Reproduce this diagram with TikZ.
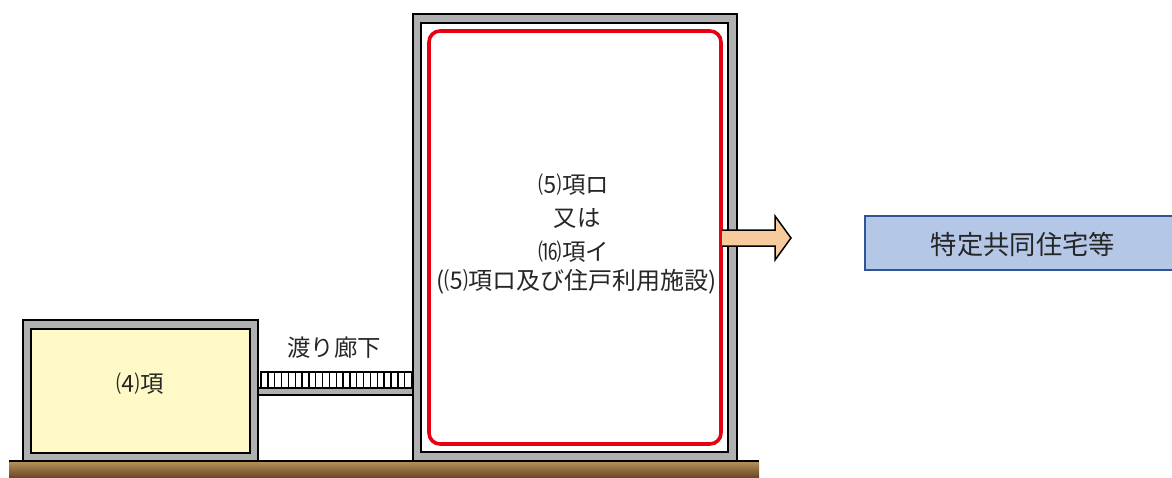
\documentclass[tikz,border=0pt]{standalone}
\usepackage{fontspec}
\setmainfont{Noto Sans CJK JP}
\tikzset{
 wall/.style={draw=black,line width=2pt,fill=wallgray},
 room/.style={draw=black,line width=2pt},
 lbl/.style={text=black!85,inner sep=0pt,align=center},
 lblm/.style={lbl,font=\fontsize{24}{26}\selectfont},
 lblb/.style={lbl,font=\fontsize{26.3}{28}\selectfont},
 lbls/.style={lbl,font=\fontsize{23.4}{26}\selectfont},
}
\definecolor{wallgray}{HTML}{B0B0B0}
\definecolor{roomyellow}{HTML}{FFF9C8}
\definecolor{redline}{HTML}{E60012}
\definecolor{arrowfill}{HTML}{F8CB9C}
\definecolor{boxfill}{HTML}{B4C7E7}
\definecolor{boxline}{HTML}{2F5597}
\definecolor{groundtop}{HTML}{B8935A}
\definecolor{groundbot}{HTML}{6A4A28}
\begin{document}
\begin{tikzpicture}[x=1pt,y=-1pt]
\useasboundingbox (0,0) rectangle (1172,477);
\fill[white] (0,0) rectangle (1172,477);
% ground
\shade[top color=groundtop,bottom color=groundbot] (9,461) rectangle (759,477);
\draw[black,line width=1.2pt] (9,461) -- (759,461);
% left building
\draw[wall] (23,320) rectangle (258,461);
\draw[room,fill=roomyellow] (31,329) rectangle (250,453);
% bridge
\draw[wall] (258,388) rectangle (413,395);
\draw[black,line width=1.4pt] (261,388) -- (261,372) -- (411.5,372) -- (411.5,388);
\foreach \i in {1,...,21} \draw[black,line width=1.4pt] ({261+\i*6.84},372) -- ({261+\i*6.84},388);
% main building
\draw[wall] (413,14) rectangle (737,461);
\draw[room,fill=white] (421,23) rectangle (728,452);
\draw[redline,line width=3.6pt,rounded corners=11pt] (429,31) rectangle (721,444);
% arrow
\draw[black,line width=1.5pt,fill=arrowfill] (722,230) -- (775,230) -- (775,216) -- (791,238) -- (775,260) -- (775,246) -- (722,246);
% box
\fill[boxfill] (865,216) rectangle (1174,270);
\draw[boxline,line width=2pt] (1174,216) -- (865,216) -- (865,270) -- (1174,270);
% labels
\node[lbls] (n4) at (140,384) {⑷項};
\node[lbls] (nb) at (334,348) {渡り廊下};
\node[lbls] (m1) at (574,185) {⑸項ロ};
\node[lbls] (m2) at (577,218) {又は};
\node[lbls] (m3) at (574,252) {⒃項イ};
\node[lblm] (m4) at (576.5,282) {(⑸項ロ及び住戸利用施設)};
\node[lblb] (sp) at (1023,245) {特定共同住宅等};
\end{tikzpicture}
\end{document}
